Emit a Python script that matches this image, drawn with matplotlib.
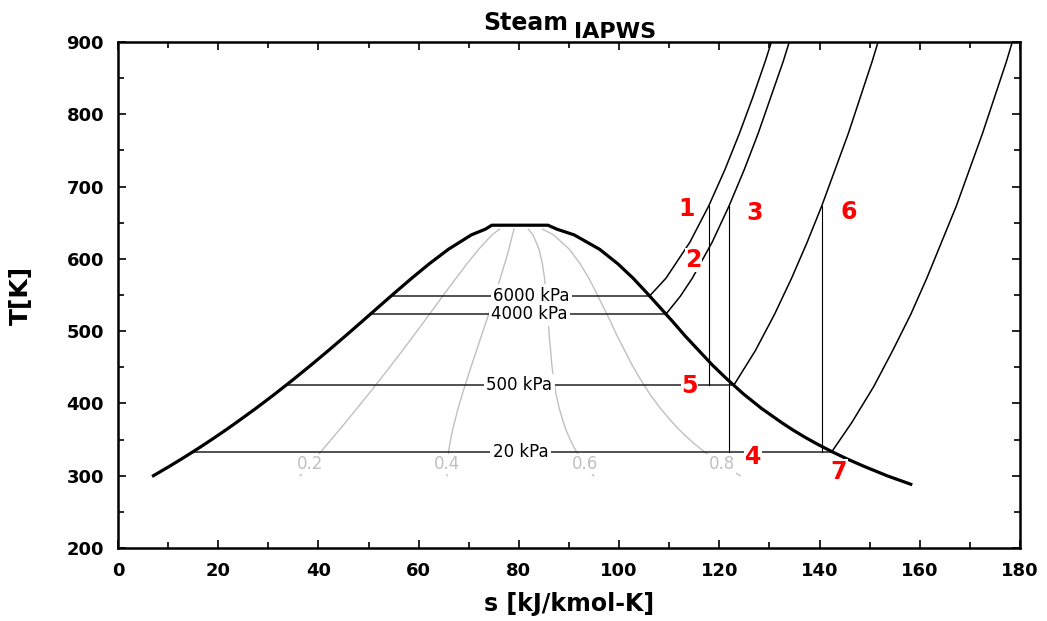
import numpy as np
import matplotlib
matplotlib.use("Agg")
import matplotlib.pyplot as plt

plt.rcParams['font.family'] = ['DejaVu Sans']

# saturation data (T [K], s_f and s_g [kJ/kmol-K])
T_sat = [300.0, 313.15, 323.15, 333.15, 343.15, 353.15, 363.15, 373.15, 393.15, 413.15,
         433.15, 453.15, 473.15, 493.15, 513.15, 533.15, 553.15, 573.15, 593.15, 613.15,
         633.15, 641.0]
s_f = [7.08, 10.31, 12.68, 14.98, 17.21, 19.38, 21.49, 23.54, 27.53, 31.33,
       35.00, 38.54, 41.99, 45.36, 48.67, 51.95, 55.25, 58.61, 62.12, 65.92,
       70.52, 73.3]
s_g = [153.44, 148.8, 145.5, 142.5, 139.7, 137.1, 134.7, 132.5, 128.4, 124.8,
       121.6, 118.6, 115.9, 113.2, 110.7, 108.1, 105.5, 102.8, 99.74, 96.12,
       91.02, 87.6]
# flat top of the dome as drawn
T_top = 646.5
s_top = [74.6, 85.8]
T_vap_end, s_vap_end = 288.15, 158.2

qualities = [0.2, 0.4, 0.6, 0.8]

# isobars: name, saturation T, s_f, s_g, superheated (T, s)
isobar_names = ["6000 kPa", "4000 kPa", "500 kPa", "20 kPa"]
isobar_Tsat = [548.8, 523.55, 425.0, 333.2]
isobar_sf = [54.54, 50.38, 33.52, 14.99]
isobar_sg = [106.11, 109.35, 122.88, 142.45]
sup_T = [
    [548.8, 573.15, 623.15, 673.15, 723.15, 773.15, 823.15, 873.15, 900.0],
    [523.55, 548.15, 573.15, 623.15, 673.15, 723.15, 773.15, 873.15, 900.0],
    [425.0, 473.15, 523.15, 573.15, 623.15, 673.15, 773.15, 873.15, 900.0],
    [333.2, 373.15, 423.15, 473.15, 523.15, 573.15, 673.15, 773.15, 873.15, 900.0],
]
sup_s = [
    [106.11, 109.35, 114.14, 117.88, 121.10, 123.99, 126.66, 129.16, 130.39],
    [109.35, 112.21, 114.60, 118.58, 121.94, 124.96, 127.73, 132.75, 133.96],
    [122.88, 127.20, 131.01, 134.42, 137.54, 140.44, 145.73, 150.50, 151.68],
    [142.45, 146.4, 150.8, 154.6, 158.2, 161.4, 167.3, 172.5, 177.3, 178.46],
]
isobar_label_s = [82.5, 82.1, 80.1, 80.3]

# isentropic process lines: s, T top, T bottom
proc_s = [117.88, 121.94, 140.44]
proc_Ttop = [673.15, 673.15, 673.15]
proc_Tbot = [425.0, 333.2, 333.2]

# state point labels
state_labels = ["1", "2", "3", "4", "5", "6", "7"]
state_s = [113.4, 114.8, 127.1, 126.7, 114.0, 145.9, 143.9]
state_T = [669.5, 598.4, 663.5, 325.5, 424.1, 664.8, 305.2]

fig = plt.figure(figsize=(10.47, 6.21), dpi=100)
ax = fig.add_axes([0.1127, 0.1176, 0.8615, 0.8148])

# saturation dome
dome_s = s_f + s_top + s_g[::-1] + [s_vap_end]
dome_T = T_sat + [T_top, T_top] + T_sat[::-1] + [T_vap_end]
ax.plot(dome_s, dome_T, color='black', lw=2.3, zorder=4, solid_joinstyle='round')

# quality lines
sf = np.array(s_f)
sg = np.array(s_g)
for q in qualities:
    sq = sf + q * (sg - sf)
    ax.plot(sq, T_sat, color='#c0c0c0', lw=1.0, zorder=1)
    s_lab = np.interp(316, T_sat, sq)
    ax.text(s_lab, 316, f"{q:.1f}", color='#c0c0c0', fontsize=12,
            ha='center', va='center', zorder=2,
            bbox=dict(facecolor='white', edgecolor='none', pad=0.8))

# isobars
for i, name in enumerate(isobar_names):
    ax.plot([isobar_sf[i], isobar_sg[i]], [isobar_Tsat[i], isobar_Tsat[i]],
            color='#222222', lw=1.1, zorder=3)
    ax.plot(sup_s[i], sup_T[i], color='black', lw=1.1, zorder=3)
    ax.text(isobar_label_s[i], isobar_Tsat[i], name, fontsize=12,
            ha='center', va='center', zorder=5,
            bbox=dict(facecolor='white', edgecolor='none', boxstyle='square,pad=0.15'))

# process lines
for s, t1, t2 in zip(proc_s, proc_Ttop, proc_Tbot):
    ax.plot([s, s], [t1, t2], color='black', lw=0.8, zorder=3)

for lab, s, t in zip(state_labels, state_s, state_T):
    ax.text(s, t, lab, color='#ff0000', fontsize=17, fontweight='bold',
            ha='center', va='center', zorder=6,
            bbox=dict(facecolor='white', edgecolor='none', pad=0.3))

ax.set_xlim(0, 180)
ax.set_ylim(200, 900)
ax.set_xticks(np.arange(0, 181, 20))
ax.set_xticks(np.arange(0, 181, 10), minor=True)
ax.set_yticks(np.arange(200, 901, 100))
ax.set_yticks(np.arange(200, 901, 50), minor=True)
ax.tick_params(which='both', direction='in', top=True, right=True, width=1.2)
ax.tick_params(which='major', length=6, labelsize=13, pad=10)
ax.tick_params(which='minor', length=4)
for lab in ax.get_xticklabels() + ax.get_yticklabels():
    lab.set_fontweight('bold')
for sp in ax.spines.values():
    sp.set_linewidth(1.8)

ax.set_xlabel("s [kJ/kmol-K]", fontsize=17, fontweight='bold', labelpad=9)
ax.set_ylabel("T[K]", fontsize=18, fontweight='bold', labelpad=24)

fig.text(0.4613, 0.9517, "Steam", fontsize=17, fontweight='bold', ha='left', va='baseline')
fig.text(0.5482, 0.9388, "IAPWS", fontsize=16, fontweight='bold', ha='left', va='baseline')

fig.savefig("out.png", dpi=100)
